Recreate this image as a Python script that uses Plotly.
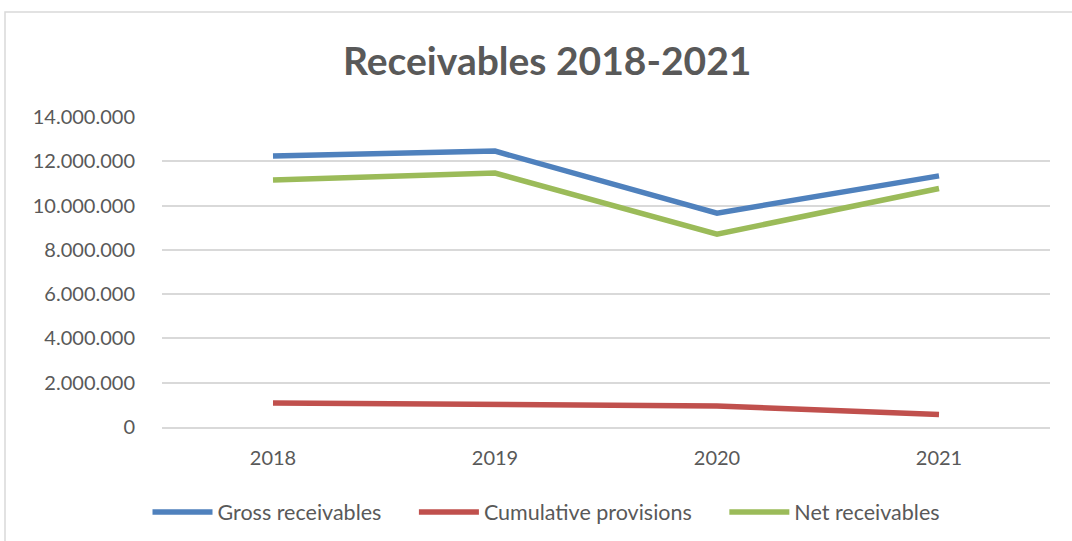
import plotly.graph_objects as go

years = ["2018", "2019", "2020", "2021"]
gross = [12240000, 12460000, 9660000, 11340000]
provisions = [1080000, 990000, 950000, 570000]
net = [11160000, 11470000, 8710000, 10770000]

series = [
    ("Gross receivables", gross, "#4F81BD"),
    ("Cumulative provisions", provisions, "#C0504D"),
    ("Net receivables", net, "#9BBB59"),
]

FONT = "Lato"
GRAY = "#595959"
PAD = "\u00a0" * 5

fig = go.Figure()
for name, vals, col in series:
    fig.add_trace(go.Scatter(x=years, y=vals, name=name + PAD, mode="lines",
                             line=dict(color=col, width=5.5)))

L, R, T, B = 162, 22, 117, 114
W, H = 1072, 541
pw = W - L - R
ph = H - T - B

fig.update_layout(
    width=W, height=H,
    margin=dict(l=L, r=R, t=T, b=B, autoexpand=False),
    paper_bgcolor="white", plot_bgcolor="white",
    separators=",.",
    font=dict(family=FONT, color=GRAY, size=20),
    showlegend=True,
    legend=dict(orientation="h", x=(560 - L) / pw, xanchor="center",
                y=(427 - 512) / ph, yanchor="middle",
                font=dict(size=21.5, color=GRAY), itemwidth=60),
    annotations=[dict(text="<b>Receivables 2018-2021</b>", xref="paper", yref="paper",
                      x=(547 - L) / pw, y=(427 - 60) / ph, xanchor="center", yanchor="middle",
                      showarrow=False, font=dict(size=39, color=GRAY, family=FONT))],
    shapes=[dict(type="rect", xref="paper", yref="paper",
                 x0=(5 - L) / pw, x1=(1080 - L) / pw,
                 y0=(427 - 560) / ph, y1=(427 - 12) / ph,
                 line=dict(color="#D9D9D9", width=1.5), fillcolor="rgba(0,0,0,0)", layer="below")],
)
fig.update_xaxes(type="category", range=[-0.5, 3.5], showgrid=False,
                 showline=True, linecolor="#D9D9D9", linewidth=1.5,
                 ticks="", tickfont=dict(size=20, color=GRAY), ticklabelstandoff=12)
fig.update_yaxes(range=[0, 14000000], dtick=2000000, tickformat=",d",
                 showgrid=True, gridcolor="#D9D9D9", gridwidth=1.5,
                 zeroline=False, showline=False, ticks="",
                 tickfont=dict(size=20, color=GRAY), ticklabelstandoff=26)

fig.write_html("out.html")
